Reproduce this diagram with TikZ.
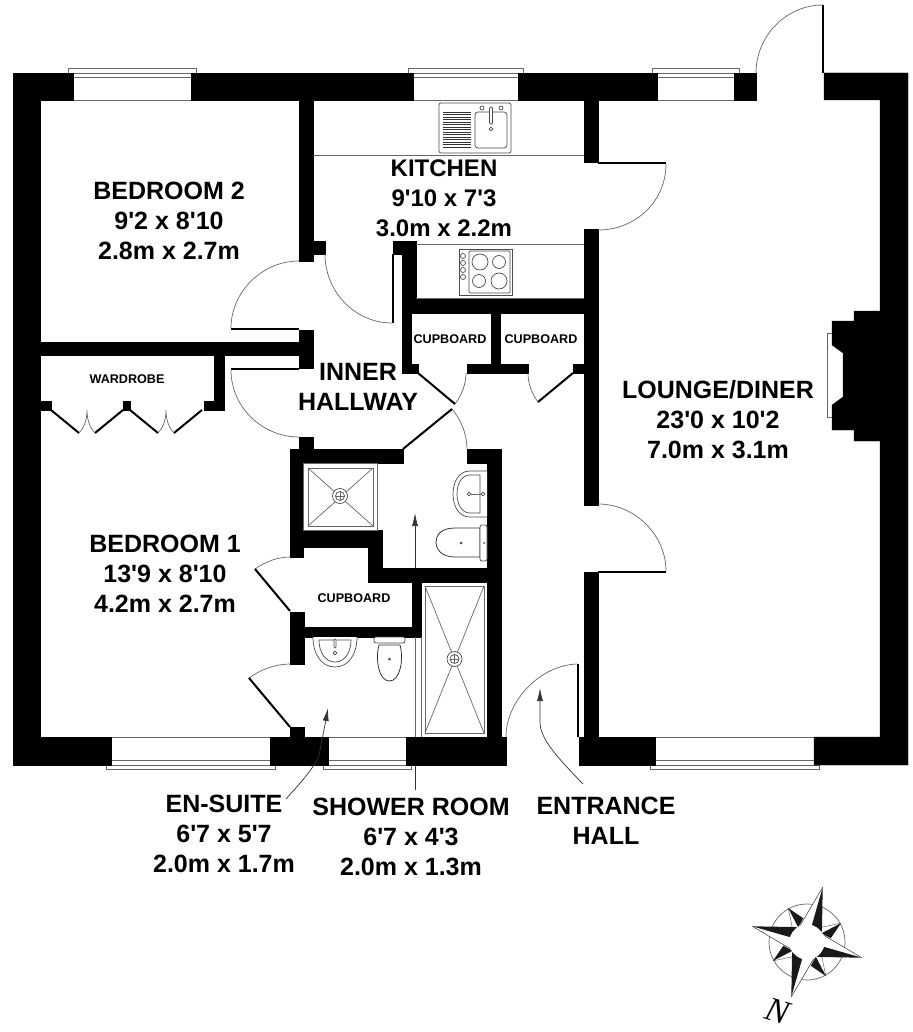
\documentclass[tikz,border=0pt]{standalone}
\usepackage{fontspec}
\usetikzlibrary{arrows.meta,calc}
\setmainfont{Liberation Sans}[Ligatures=TeXOff]
\newfontfamily\northfont{Liberation Serif}
\tikzstyle{wall}=[fill=black,draw=black,line width=0.3pt]
\tikzstyle{thin}=[draw=black!60,line width=0.7pt]
\tikzstyle{fitting}=[draw=black!70,line width=0.7pt,fill=white]
\tikzstyle{leaf}=[draw=black,line width=2pt]
\tikzstyle{label}=[align=center,font=\fontsize{25}{30}\selectfont\bfseries,text=black]
\tikzstyle{kitchenlabel}=[align=center,font=\fontsize{24}{30}\selectfont\bfseries,text=black]
\tikzstyle{smalllabel}=[font=\fontsize{12.6}{14}\selectfont\bfseries,text=black]
\tikzstyle{leader}=[draw=black!80,line width=0.7pt,-{Latex[length=13pt,width=6pt]}]
\newcommand{\gully}[1]{
  \draw[fitting] (#1) circle (7.5);
  \draw[fitting] (#1) circle (4.5);
  \draw[thin] ($(#1)+(-4.5,0)$) -- ++(9,0) ($(#1)+(0,-4.5)$) -- ++(0,9);
}
\begin{document}
\begin{tikzpicture}[x=1pt,y=-1pt]
\useasboundingbox (0,0) rectangle (912,1032);
% windows
\foreach \a/\b in {73/191,413/518,657/734}{
  \draw[thin] (\a-5,73) -- (\a-5,68) -- (\b+5,68) -- (\b+5,73) -- cycle;
  \draw[thin] (\a,77.5) -- (\b,77.5) (\a,100) -- (\b,100);
}
\foreach \a/\b in {111/270,328/406,655/814}{
  \draw[thin] (\a-5,765) -- (\a-5,769.5) -- (\b+5,769.5) -- (\b+5,765) -- cycle;
  \draw[thin] (\a,760.5) -- (\b,760.5) (\a,737) -- (\b,737);
}
% leader under the walls
\draw[thin] (415,637) -- (415,568);
\draw[leader] (415,790) -- (415,513);
% outer walls
\fill[wall] (13,73) rectangle (73,100);
\fill[wall] (191,73) rectangle (413,100);
\fill[wall] (518,73) rectangle (657,100);
\fill[wall] (734,73) rectangle (756,100);
\fill[wall] (824,73) -- (908,73) -- (908,765) -- (814,765) -- (814,737) -- (880,737)
  -- (880,441) -- (854,441) -- (854,430) -- (832,430) -- (832,405) -- (843,397)
  -- (843,353) -- (832,345) -- (832,321) -- (854,321) -- (854,311) -- (880,311)
  -- (880,100) -- (824,100) -- cycle;
\fill[wall] (13,73) rectangle (40,765);
\fill[wall] (13,737) rectangle (111,765);
\fill[wall] (270,737) rectangle (328,765);
\fill[wall] (406,737) rectangle (506,765);
\fill[wall] (579,737) rectangle (655,765);
% inner walls
\fill[wall] (299,100) rectangle (313,261);
\fill[wall] (313,241) rectangle (325,254);
\fill[wall] (299,330) rectangle (313,368);
\fill[wall] (40,342) rectangle (313,355);
\fill[wall] (214,355) rectangle (224,410);
\fill[wall] (204,401) rectangle (224,410);
\fill[wall] (40,401) rectangle (51,410);
\fill[wall] (123,401) rectangle (130,410);
\fill[wall] (584,100) rectangle (598,162);
\fill[wall] (584,229) rectangle (598,505);
\fill[wall] (584,572) rectangle (598,737);
\fill[wall] (393,241) rectangle (416,254);
\fill[wall] (402,254) rectangle (416,298);
\fill[wall] (402,298) rectangle (584,313);
\fill[wall] (402,298) rectangle (411,373);
\fill[wall] (402,364) rectangle (418,373);
\fill[wall] (467,364) rectangle (528,373);
\fill[wall] (491,313) rectangle (500,373);
\fill[wall] (573,364) rectangle (584,373);
\fill[wall] (299,437) rectangle (313,449);
\fill[wall] (290,449) rectangle (403,463);
\fill[wall] (467,449) rectangle (501,463);
\fill[wall] (290,449) rectangle (303,557);
\fill[wall] (487,449) rectangle (501,737);
\fill[wall] (303,530) rectangle (382,547);
\fill[wall] (368,530) rectangle (382,582);
\fill[wall] (368,568) rectangle (488,582);
\fill[wall] (412,582) rectangle (421,637);
\fill[wall] (290,627) rectangle (421,637);
\fill[wall] (290,612) rectangle (304,664);
\fill[wall] (290,727) rectangle (304,737);
% doors
\draw[thin] (299,261) .. controls (262,261) and (231,292) .. (231,328);
\draw[leaf] (231,329) -- (299,329);
\draw[leaf] (231,369) -- (299,369);
\draw[thin] (231,370) .. controls (231,407) and (262,437) .. (299,437);
\draw[thin] (325,254) .. controls (325,292) and (355,323) .. (392,323);
\draw[leaf] (393,254) -- (393,323);
\draw[thin] (666,164) .. controls (666,201) and (636,230) .. (598,230);
\draw[leaf] (598,163) -- (666,163);
\draw[thin] (756,73) .. controls (756,36) and (786,5) .. (823,5);
\draw[leaf] (823,5) -- (823,73);
\draw[thin] (598,504) .. controls (635,504) and (666,535) .. (666,571);
\draw[leaf] (598,571.5) -- (666,571.5);
\draw[thin] (506,737) .. controls (506,700) and (541,665) .. (577,664);
\draw[leaf] (577.5,664) -- (577.5,737);
\draw[thin] (466,373) .. controls (466,385) and (461,396) .. (455,404);
\draw[leaf] (418,373) -- (455,404);
\draw[thin] (528,373) .. controls (528,384) and (532,394) .. (538,402);
\draw[leaf] (538,402) -- (573,373);
\draw[leaf] (403,449) -- (452,409);
\draw[thin] (452,409) .. controls (461,420) and (467,434) .. (467,449);
\draw[thin] (255,569) .. controls (265,562) and (277,557) .. (290,557);
\draw[leaf] (255,569) -- (290,611);
\draw[thin] (249,678) .. controls (260,670) and (275,664) .. (290,664);
\draw[leaf] (249,678) -- (290,727);
% wardrobe doors
\draw[leaf] (51,410) -- (79,433) (95,433) -- (123,410) (130,410) -- (158,433) (174,433) -- (202,410);
\foreach \x in {87,166}{
  \draw[thin] (\x-8,433) .. controls (\x-3,428) and (\x,420) .. (\x,410)
    .. controls (\x,420) and (\x+3,428) .. (\x+8,433);
}
% chimney hearth
\draw[thin] (832,333) -- (827,333) -- (827,417) -- (832,417);
% kitchen units
\draw[thin] (313,155) -- (584,155);
\draw[thin] (416,244) -- (584,244);
\draw[thin] (416,298) -- (584,298);
\draw[fitting,rounded corners=2pt] (439,103) rectangle (511,153);
\draw[fitting,rounded corners=3pt] (475,112) rectangle (507,148);
\foreach \y in {112,114.5,...,148}{
  \draw[draw=black!80,line width=0.9pt] (443,\y) -- (471,\y);
}
\draw[fitting,rounded corners=1pt] (489.5,107) rectangle (492.5,124);
\draw[fitting] (491,129) circle (1.8);
\draw[fitting] (482,108) circle (2);
\draw[fitting] (501,108) circle (2);
\draw[fitting] (459,249) rectangle (512,295);
\draw[fitting,rounded corners=1pt] (469,251) rectangle (510,293);
\foreach \y in {256,263,270,277}{
  \draw[fitting] (463,\y) circle (2.5);
}
\draw[fitting] (480,262) circle (8);
\draw[fitting] (499,262) circle (6.5);
\draw[fitting] (479,281) circle (6.5);
\draw[fitting] (499,281) circle (8);
% shower room
\draw[thin] (303,463) rectangle (377,530);
\draw[thin] (308,468) rectangle (373,526);
\draw[thin] (308,468) -- (373,526) (373,468) -- (308,526);
\gully{340,496}
\draw[fitting] (487,471) -- (470,471) .. controls (458,471) and (453,483) .. (453,494)
  .. controls (453,505) and (458,517) .. (470,517) -- (487,517);
\draw[fitting] (480,475) -- (470,475) .. controls (461,475) and (457,485) .. (457,494)
  .. controls (457,503) and (461,513) .. (470,513) -- (480,513) -- cycle;
\draw[thin] (469,494) -- (485,494);
\draw[fitting] (469,494) circle (1.8);
\draw[fitting] (483,494) circle (1.8);
\draw[draw=black!80,line width=0.8pt,fill=white] (480,528) -- (455,528) .. controls (441,528) and (436,535) .. (436,542)
  .. controls (436,549) and (441,557) .. (455,557) -- (480,557) -- cycle;
\draw[fitting,rounded corners=2pt] (480,525) rectangle (487,561);
\fill[black!70] (461,543) circle (1.5) (484,543) circle (1);
% en-suite
\draw[thin] (415,737) -- (415,637) (421,637) -- (421,737);
\draw[thin] (425,586) rectangle (484,733);
\draw[thin] (425,586) -- (484,733) (484,586) -- (425,733);
\gully{454.5,659}
\draw[fitting] (313,637) .. controls (313,655) and (322,667) .. (335,667)
  .. controls (348,667) and (357,655) .. (357,637);
\draw[fitting] (319,640) .. controls (319,652) and (325,662) .. (335,662)
  .. controls (345,662) and (351,652) .. (351,640) -- cycle;
\draw[fitting,rounded corners=1pt] (334,639) rectangle (336,648);
\draw[fitting] (335,653) circle (1.8);
\draw[fitting,rounded corners=2pt] (374,637) rectangle (405,643);
\draw[draw=black!80,line width=0.8pt,fill=white] (379,645) .. controls (375,660) and (379,681) .. (389.5,681)
  .. controls (400,681) and (404,660) .. (400,645) -- cycle;
\fill[black!70] (389.5,659) circle (1.5);
% arrows to the labels
\coordinate (ensuite-end) at (286,799);
\draw[leader] (ensuite-end) .. controls (300,783) and (313,770) .. (319,755) .. controls (322,740) and (325,725) .. (328,708);
\coordinate (hall-end) at (583,784);
\draw[leader] (hall-end) .. controls (560,760) and (540,740) .. (540,722) -- (540,688);
% labels
\node[label] (bedroomtwo) at (169,221) {BEDROOM 2\\9'2 x 8'10\\2.8m x 2.7m};
\node[kitchenlabel] (kitchen) at (444,198) {KITCHEN\\9'10 x 7'3\\3.0m x 2.2m};
\node[label] (lounge) at (718,420) {LOUNGE/DINER\\23'0 x 10'2\\7.0m x 3.1m};
\node[label] (bedroomone) at (165,574) {BEDROOM 1\\13'9 x 8'10\\4.2m x 2.7m};
\node[label] (hallway) at (358,387) {INNER\\HALLWAY};
\node[label] (ensuite) at (224,834) {EN-SUITE\\6'7 x 5'7\\2.0m x 1.7m};
\node[label] (shower) at (411,837) {SHOWER ROOM\\6'7 x 4'3\\2.0m x 1.3m};
\node[label] (entrance) at (606,821) {ENTRANCE\\HALL};
\node[smalllabel] (wardrobe) at (127,379) {WARDROBE};
\node[smalllabel] (cupboardone) at (450,339) {CUPBOARD};
\node[smalllabel] (cupboardtwo) at (541,339) {CUPBOARD};
\node[smalllabel] (cupboardthree) at (354,598) {CUPBOARD};
% compass
\begin{scope}[shift={(807,942)}]
\draw[thin] (0,0) circle (38);
\foreach \t in {-119,-29,61,151}{
  \fill[black!90] (\t:39) -- (\t+20:24) -- (\t-2:17) -- cycle;
  \draw[black!70,line width=0.4pt] (\t:39) -- (\t-25:17);
}
\foreach \t in {-74,16,106,196}{
  \fill[white] (\t:57) -- (\t-38:18) -- (\t:18) -- cycle;
  \draw[black!80,line width=0.5pt] (\t:57) -- (\t-38:18);
  \fill[black!90] (\t:57) -- (\t+40:18) -- (\t:18) -- cycle;
}
\fill[white] (0,0) circle (17.5);
\end{scope}
\node[rotate=-17,inner sep=0pt,font=\fontsize{34}{34}\selectfont\northfont\itshape] (north) at (778,1011) {N};
\end{tikzpicture}
\end{document}
